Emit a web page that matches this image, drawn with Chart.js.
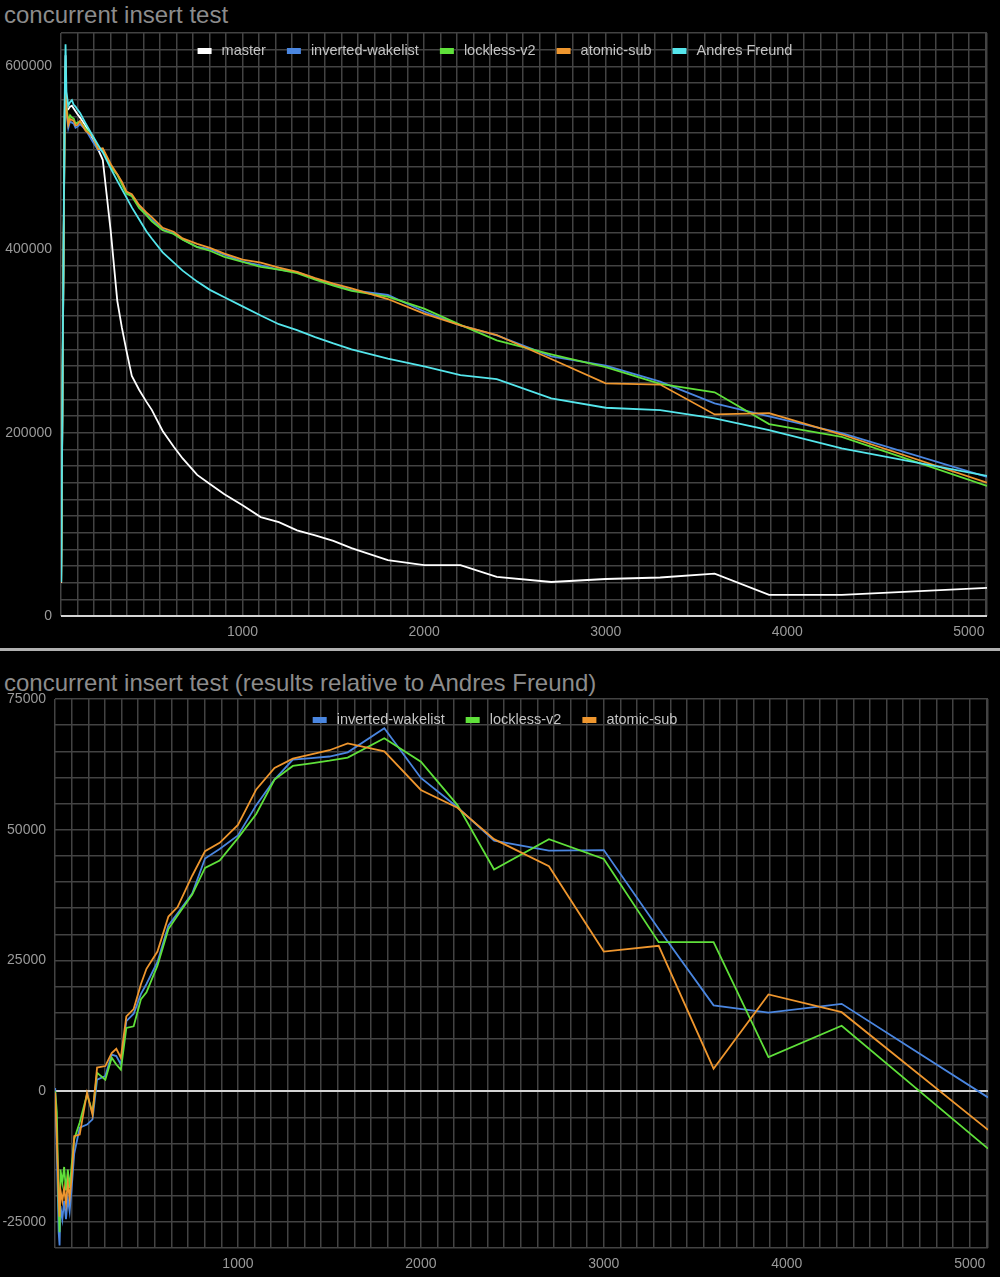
<!DOCTYPE html>
<html>
<head>
<meta charset="utf-8">
<script src="https://cdn.jsdelivr.net/npm/chart.js@4.4.0/dist/chart.umd.min.js"></script>
<style>
html, body { margin: 0; padding: 0; background: #000; }
body { width: 1000px; height: 1277px; position: relative; overflow: hidden; font-family: "Liberation Sans", Arial, sans-serif; }
.title { position: absolute; left: 4px; color: #8c8c8c; font-size: 24px; line-height: 28px; white-space: nowrap; }
.box { position: absolute; left: 0; width: 1000px; }
.sep { position: absolute; left: 0; top: 648px; width: 1000px; height: 3px; background: #b0b0b0; }
</style>
</head>
<body>
<div class="title" style="top:1px">concurrent insert test</div>
<div class="box" style="top:25px;height:620px"><canvas id="absChart"></canvas></div>
<div class="sep"></div>
<div class="title" style="top:669px">concurrent insert test (results relative to Andres Freund)</div>
<div class="box" style="top:690px;height:587px"><canvas id="relChart"></canvas></div>
<script>
// number of clients (x axis)
const clients = [1, 10, 20, 25, 30, 40, 50, 60, 70, 80, 90, 105, 135, 175, 205, 230, 275, 310, 335, 360,
    390, 430, 470, 500, 560, 620, 670, 750, 820, 900, 1000, 1100, 1200, 1300, 1400, 1500, 1600, 1800, 2000, 2200,
    2400, 2700, 3000, 3300, 3600, 3900, 4300, 5100];

// throughput per build
const master = [36000, 290000, 545000, 612000, 552000, 553000, 556000, 557000, 554000, 551000,
    548000, 544000, 535000, 521000, 509000, 498000, 418000, 344000, 315000, 290000,
    262000, 247000, 234000, 225000, 202000, 185000, 172000, 154000, 144000, 133000,
    121000, 108000, 102500, 93500, 88000, 82000, 74000, 61000, 55600, 55600,
    42600, 37100, 40400, 42000, 46300, 23000, 23000, 30800];
const invertedWakelist = [37600, 288000, 533000, 594500, 550000, 532500, 540000, 538500, 537500, 533000,
    534000, 537000, 531000, 517600, 508600, 508200, 490900, 482000, 472700, 462100,
    459400, 447800, 438600, 432500, 421700, 417700, 411000, 402800, 400500, 394300,
    386900, 382700, 378100, 375400, 368200, 361500, 355800, 350400, 332400, 317300,
    306400, 283500, 273400, 255800, 232100, 218000, 199700, 151800];
const locklessV2 = [37000, 296000, 538000, 597000, 557000, 539500, 546500, 544000, 543000, 537500,
    538500, 539800, 532000, 523400, 509900, 509500, 490200, 481400, 471100, 461100,
    458100, 445400, 437600, 430900, 421000, 417000, 410600, 402600, 398700, 392100,
    386400, 381000, 378100, 374200, 367200, 360700, 354800, 348500, 335500, 317700,
    300900, 285700, 271700, 253300, 244200, 209500, 195500, 142000];
const atomicSub = [36700, 291000, 540000, 600000, 553000, 536000, 542500, 541500, 540500, 535500,
    536000, 540400, 529700, 523700, 509500, 510500, 492800, 482300, 474100, 463400,
    460300, 448700, 440500, 435400, 423700, 419400, 412200, 406200, 401900, 395500,
    388900, 385700, 380300, 375600, 368900, 362700, 357500, 346000, 330100, 317200,
    306700, 280500, 254000, 252600, 220000, 221500, 198100, 145600];
const andresFreund = [37000, 300000, 560000, 624000, 572000, 557000, 561000, 563000, 558000, 556000,
    553000, 549000, 538000, 524000, 514000, 506000, 488000, 475000, 466000, 457000,
    446000, 433000, 420000, 412000, 397000, 386000, 377000, 365000, 356000, 348000,
    338000, 328000, 318500, 312000, 304500, 297500, 291000, 281000, 272500, 263000,
    258500, 237500, 227300, 224800, 215700, 203000, 183000, 153000];

// difference to Andres Freund
const relWakelist = [600, -12000, -27000, -29500, -22000, -24500, -21000, -24500, -20500, -23000,
    -19000, -12000, -7000, -6400, -5400, 2200, 2900, 7000, 6700, 5100,
    13400, 14800, 18600, 20500, 24700, 31700, 34000, 37800, 44500, 46300,
    48900, 54700, 59600, 63400, 63700, 64000, 64800, 69400, 59900, 54300,
    47900, 46000, 46100, 31000, 16400, 15000, 16700, -1200];
const relLockless = [0, -4000, -22000, -27000, -15000, -17500, -14500, -19000, -15000, -18500,
    -14500, -9200, -6000, -600, -4100, 3500, 2200, 6400, 5100, 4100,
    12100, 12400, 17600, 18900, 24000, 31000, 33600, 37600, 42700, 44100,
    48400, 53000, 59600, 62200, 62700, 63200, 63800, 67500, 63000, 54700,
    42400, 48200, 44400, 28500, 28500, 6500, 12500, -11000];
const relAtomic = [-300, -9000, -20000, -24000, -19000, -21000, -18500, -21500, -17500, -20500,
    -17000, -8600, -8300, -300, -4500, 4500, 4800, 7300, 8100, 6400,
    14300, 15700, 20500, 23400, 26700, 33400, 35200, 41200, 45900, 47500,
    50900, 57700, 61800, 63600, 64400, 65200, 66500, 65000, 57600, 54200,
    48200, 43000, 26700, 27800, 4300, 18500, 15100, -7400];

// axis ticks
const xMax = 5100;
const xLabelStep = 1000;
const absYLabelStep = 200000;
const absYMax = 636363.6;
const relYMin = -30000;
const relYMax = 75000;
const relYStep = 5000;
const relYLabelStep = 25000;

const FONT = 'Liberation Sans, Arial, sans-serif';
const GRID = '#434343';
const BASE = '#d4d4d4';

Chart.defaults.font.family = FONT;
Chart.defaults.font.size = 14;
Chart.defaults.color = '#9a9a9a';

function pts(values) {
    return values.map((v, i) => ({ x: clients[i], y: v }));
}

function line(label, values, color, order) {
    return {
        label: label,
        data: pts(values),
        borderColor: color,
        backgroundColor: color,
        borderWidth: 1.8,
        pointRadius: 0,
        tension: 0,
        order: order
    };
}

// legend drawn as one row inside the plot, like the original
const rowLegend = {
    id: 'rowLegend',
    afterDraw(chart, args, opts) {
        const ctx = chart.ctx;
        ctx.save();
        ctx.font = '14.5px ' + FONT;
        ctx.textBaseline = 'middle';
        const items = chart.data.datasets.map(d => ({ label: d.label, color: d.borderColor, w: ctx.measureText(d.label).width }));
        const total = items.reduce((s, it) => s + 14 + 10 + it.w, 0) + 21 * (items.length - 1);
        let x = opts.center - total / 2;
        items.forEach(it => {
            ctx.fillStyle = it.color;
            ctx.fillRect(x, opts.y - 3, 14, 6);
            ctx.fillStyle = '#c4c4c4';
            ctx.fillText(it.label, x + 24, opts.y);
            x += 24 + it.w + 21;
        });
        ctx.restore();
    }
};

// minor grid: 11 lines per labelled interval
function xTicks() {
    const t = [];
    for (let k = 0; k * xLabelStep / 11 < xMax - 1; k++) t.push({ value: k * xLabelStep / 11, k: k });
    t.push({ value: xMax, k: -1 });
    return t;
}

function xAxis() {
    return {
        type: 'linear',
        min: 0,
        max: xMax,
        afterBuildTicks: s => { s.ticks = xTicks(); },
        afterFit: s => { s.height = 29; s.paddingLeft = 0; s.paddingRight = 0; },
        border: { display: false },
        grid: { color: GRID, lineWidth: 1.5, drawTicks: false },
        ticks: {
            autoSkip: false,
            maxRotation: 0,
            padding: 8,
            callback: function (v, i) {
                const k = this.ticks[i].k;
                return (k > 0 && k % 11 === 0) ? String((k / 11) * xLabelStep) : '';
            }
        }
    };
}

const yGrid = {
    color: c => (c.tick && c.tick.value === 0) ? BASE : GRID,
    lineWidth: c => (c.tick && c.tick.value === 0) ? 2 : 1.5,
    drawTicks: false
};

// top chart
const absCtx = document.getElementById('absChart').getContext('2d');
const absChart = new Chart(absCtx, {
    type: 'line',
    data: {
        datasets: [
            line('master', master, '#ffffff', 5),
            line('inverted-wakelist', invertedWakelist, '#4a86e0', 4),
            line('lockless-v2', locklessV2, '#5fe03a', 3),
            line('atomic-sub', atomicSub, '#ee962e', 2),
            line('Andres Freund', andresFreund, '#55e6ec', 1)
        ]
    },
    plugins: [rowLegend],
    options: {
        responsive: true,
        maintainAspectRatio: false,
        animation: false,
        layout: { padding: { top: 8, right: 13, left: 0, bottom: 0 } },
        plugins: {
            legend: { display: false },
            tooltip: { enabled: false },
            rowLegend: { center: 495, y: 26 }
        },
        scales: {
            x: xAxis(),
            y: {
                min: 0,
                max: absYMax,
                afterBuildTicks: s => {
                    const t = [];
                    for (let k = 0; k <= 35; k++) t.push({ value: k * absYLabelStep / 11, k: k });
                    s.ticks = t;
                },
                afterFit: s => { s.width = 61; s.paddingTop = 0; s.paddingBottom = 0; },
                border: { display: false },
                grid: yGrid,
                ticks: {
                    autoSkip: false,
                    padding: 9,
                    callback: function (v, i) {
                        const k = this.ticks[i].k;
                        return k % 11 === 0 ? String((k / 11) * absYLabelStep) : '';
                    }
                }
            }
        }
    }
});

// bottom chart
const relCtx = document.getElementById('relChart').getContext('2d');
const relChart = new Chart(relCtx, {
    type: 'line',
    data: {
        datasets: [
            line('inverted-wakelist', relWakelist, '#4a86e0', 3),
            line('lockless-v2', relLockless, '#5fe03a', 2),
            line('atomic-sub', relAtomic, '#ee962e', 1)
        ]
    },
    plugins: [rowLegend],
    options: {
        responsive: true,
        maintainAspectRatio: false,
        animation: false,
        layout: { padding: { top: 9, right: 12, left: 0, bottom: 0 } },
        plugins: {
            legend: { display: false },
            tooltip: { enabled: false },
            rowLegend: { center: 495, y: 30 }
        },
        scales: {
            x: xAxis(),
            y: {
                min: relYMin,
                max: relYMax,
                afterBuildTicks: s => {
                    const t = [];
                    for (let v = relYMin; v <= relYMax; v += relYStep) t.push({ value: v });
                    s.ticks = t;
                },
                afterFit: s => { s.width = 55; s.paddingTop = 0; s.paddingBottom = 0; },
                border: { display: false },
                grid: yGrid,
                ticks: {
                    autoSkip: false,
                    padding: 9,
                    callback: v => (v % relYLabelStep === 0) ? String(v) : ''
                }
            }
        }
    }
});
</script>
</body>
</html>
